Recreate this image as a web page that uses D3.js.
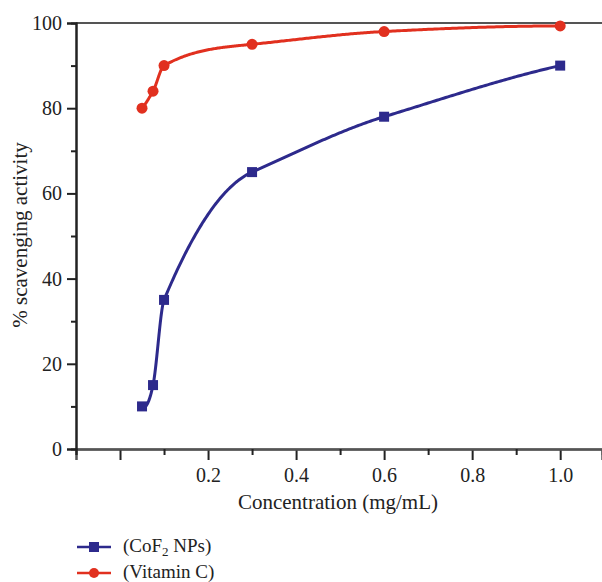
<!DOCTYPE html>
<html><head><meta charset="utf-8">
<script src="https://cdn.jsdelivr.net/npm/d3@7"></script>
<style>body{margin:0;background:#fff}svg{display:block}</style>
</head><body>
<script>
const concentrations = [0.05, 0.075, 0.1, 0.3, 0.6, 1.0];
const cof2Values = [10, 15, 35, 65, 78, 90];
const vitCValues = [80, 84, 90, 95, 98, 99.3];
const xTickLabels = [0.2, 0.4, 0.6, 0.8, 1.0];
const yTickLabels = [0, 20, 40, 60, 80, 100];
const seriesNames = ["(CoF", "(Vitamin C)"];

const W = 602, H = 582;
const svg = d3.select("body").append("svg").attr("width", W).attr("height", H);
const font = "'Liberation Serif', 'DejaVu Serif', serif";
const blue = "#2d2a8c", red = "#e1301f", ink = "#222";

const x = d3.scaleLinear().domain([-0.1, 1.095]).range([76, 602]);
const y = d3.scaleLinear().domain([0, 100]).range([449, 23]);

// Akima spline y(x) through the data points, sampled for drawing the connecting curve
function akimaSamples(xs, ys, n) {
  const k = xs.length, s = [];
  for (let i = 0; i < k - 1; i++) s.push((ys[i + 1] - ys[i]) / (xs[i + 1] - xs[i]));
  const sm1 = 2 * s[0] - s[1], sm2 = 2 * sm1 - s[0];
  const sp1 = 2 * s[k - 2] - s[k - 3], sp2 = 2 * sp1 - s[k - 2];
  const S = [sm2, sm1, ...s, sp1, sp2];
  const t = [];
  for (let i = 0; i < k; i++) {
    const a = S[i], b = S[i + 1], c = S[i + 2], d = S[i + 3];
    const w1 = Math.abs(d - c), w2 = Math.abs(b - a);
    t.push(w1 + w2 === 0 ? (b + c) / 2 : (w1 * b + w2 * c) / (w1 + w2));
  }
  const out = [];
  for (let i = 0; i < k - 1; i++) {
    const h = xs[i + 1] - xs[i];
    for (let j = 0; j < n; j++) {
      const u = j / n, u2 = u * u, u3 = u2 * u;
      const v = (2 * u3 - 3 * u2 + 1) * ys[i] + (u3 - 2 * u2 + u) * h * t[i]
              + (-2 * u3 + 3 * u2) * ys[i + 1] + (u3 - u2) * h * t[i + 1];
      out.push([xs[i] + h * u, v]);
    }
  }
  out.push([xs[k - 1], ys[k - 1]]);
  return out;
}

// top frame line
svg.append("line").attr("x1", 76).attr("x2", 602).attr("y1", y(100)).attr("y2", y(100))
  .attr("stroke", "#555").attr("stroke-width", 2);

// x axis
const xAxisG = svg.append("g").attr("transform", "translate(0,449)");
xAxisG.call(d3.axisBottom(x).tickValues(xTickLabels).tickSize(11).tickPadding(8).tickFormat(d3.format(".1f")));
xAxisG.append("g").call(d3.axisBottom(x).tickValues([0.0]).tickSize(11).tickFormat(""));
xAxisG.append("g").call(d3.axisBottom(x).tickValues([-0.1, 0.1, 0.3, 0.5, 0.7, 0.9]).tickSize(6).tickFormat(""));
xAxisG.selectAll(".domain").attr("stroke", "#555").attr("stroke-width", 2);
xAxisG.selectAll(".tick line").attr("stroke", ink).attr("stroke-width", 2);
xAxisG.selectAll("text").attr("font-family", font).attr("font-size", 20).attr("fill", ink);

// y axis
const yAxisG = svg.append("g").attr("transform", "translate(76,0)");
yAxisG.call(d3.axisLeft(y).tickValues(yTickLabels).tickSize(9).tickPadding(5).tickFormat(d3.format("d")));
yAxisG.append("g").call(d3.axisLeft(y).tickValues([10,30,50,70,90]).tickSize(5).tickFormat(""));
yAxisG.selectAll(".domain").attr("stroke", ink).attr("stroke-width", 2);
yAxisG.selectAll(".tick line").attr("stroke", ink).attr("stroke-width", 2);
yAxisG.selectAll("text").attr("font-family", font).attr("font-size", 20).attr("fill", ink);

// axis titles
svg.append("text").attr("x", 338).attr("y", 509).attr("text-anchor", "middle")
  .attr("font-family", font).attr("font-size", 21).attr("fill", ink).text("Concentration (mg/mL)");
svg.append("text").attr("transform", "translate(27,235) rotate(-90)").attr("text-anchor", "middle")
  .attr("font-family", font).attr("font-size", 21).attr("fill", ink).text("% scavenging activity");

const line = d3.line().x(d => x(d[0])).y(d => y(d[1]));
const cof2 = concentrations.map((c, i) => [c, cof2Values[i]]);
const vitC = concentrations.map((c, i) => [c, vitCValues[i]]);

svg.append("path").datum(akimaSamples(concentrations, cof2Values, 80)).attr("d", line)
  .attr("fill", "none").attr("stroke", blue).attr("stroke-width", 3);
svg.selectAll(".sq").data(cof2).join("rect").attr("x", d => x(d[0]) - 5).attr("y", d => y(d[1]) - 5)
  .attr("width", 10).attr("height", 10).attr("fill", blue);

svg.append("path").datum(akimaSamples(concentrations, vitCValues, 80)).attr("d", line)
  .attr("fill", "none").attr("stroke", red).attr("stroke-width", 3);
svg.selectAll(".ci").data(vitC).join("circle").attr("cx", d => x(d[0])).attr("cy", d => y(d[1]))
  .attr("r", 5.5).attr("fill", red);

// legend
const lg = svg.append("g");
lg.append("line").attr("x1", 77).attr("x2", 111).attr("y1", 547).attr("y2", 547).attr("stroke", blue).attr("stroke-width", 2.5);
lg.append("rect").attr("x", 89).attr("y", 542).attr("width", 10).attr("height", 10).attr("fill", blue);
const t1 = lg.append("text").attr("x", 123).attr("y", 552).attr("font-family", font).attr("font-size", 19).attr("fill", ink);
t1.append("tspan").text(seriesNames[0]);
t1.append("tspan").attr("font-size", 13).attr("dy", 4).text("2");
t1.append("tspan").attr("dy", -4).text(" NPs)");
lg.append("line").attr("x1", 77).attr("x2", 111).attr("y1", 573).attr("y2", 573).attr("stroke", red).attr("stroke-width", 2.5);
lg.append("circle").attr("cx", 94).attr("cy", 573).attr("r", 5).attr("fill", red);
lg.append("text").attr("x", 123).attr("y", 578).attr("font-family", font).attr("font-size", 19).attr("fill", ink).text(seriesNames[1]);
</script>
</body></html>
